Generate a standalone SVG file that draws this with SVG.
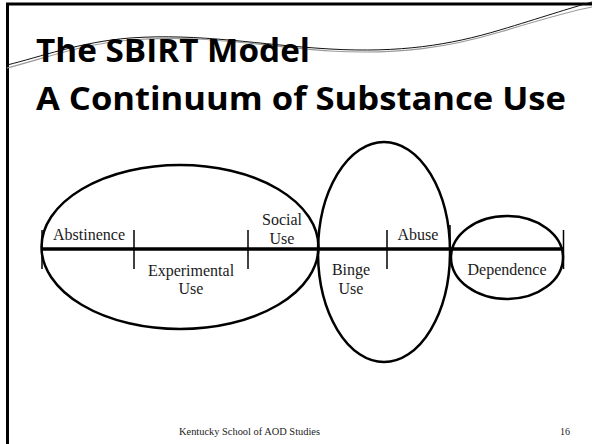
<svg xmlns="http://www.w3.org/2000/svg" width="592" height="444" viewBox="0 0 592 444">
  <style>
    .frame { stroke: #000; stroke-width: 3; fill: none; }
    .title { font-family: "Open Sans", "Liberation Sans", sans-serif; font-weight: 700; font-size: 33px; fill: #000; }
    .oval { fill: none; stroke: #000; stroke-width: 2.5; }
    .axis { stroke: #000; stroke-width: 3.5; fill: none; }
    .tick { stroke: #000; stroke-width: 1.5; fill: none; }
    .lbl { font-family: "Liberation Serif", "Times New Roman", serif; font-size: 16px; fill: #1a1a1a; text-anchor: middle; }
    .foot { font-family: "Liberation Serif", serif; font-size: 10px; fill: #222; }
  </style>

  <rect width="592" height="444" fill="#fff"/>

  <!-- slide frame: top and left rules, plus the swoosh lines -->
  <g id="frame">
    <path class="frame" d="M7.5,444 V4 H592"/>
    <path d="M7,68 C40,60 80,44 130,40 C200,34 260,46 330,51 C400,55 450,47 500,32 C540,20 570,11 592,7" fill="none" stroke="#9a9a9a" stroke-width="1.2"/>
    <path d="M7,65 C40,57 80,42 130,38 C200,33 260,45 330,49 C400,53 450,45 500,30 C540,18 570,8 592,2" fill="none" stroke="#111" stroke-width="1"/>
  </g>

  <g id="title">
    <text class="title" x="36" y="62" textLength="274" lengthAdjust="spacingAndGlyphs">The SBIRT Model</text>
    <text class="title" x="36" y="110" textLength="530" lengthAdjust="spacingAndGlyphs">A Continuum of Substance Use</text>
  </g>

  <!-- stage ovals -->
  <g id="oval-early">
    <ellipse class="oval" cx="180" cy="247" rx="138.5" ry="82"/>
  </g>
  <g id="oval-binge">
    <ellipse class="oval" cx="384" cy="252" rx="66" ry="110"/>
  </g>
  <g id="oval-dependence">
    <ellipse class="oval" cx="507" cy="257.5" rx="56" ry="41.5"/>
  </g>

  <!-- continuum axis with stage dividers -->
  <g id="connectors">
    <line class="axis" x1="41" y1="249" x2="564" y2="249"/>
    <line class="tick" x1="42" y1="230" x2="42" y2="269"/>
    <line class="tick" x1="134" y1="230" x2="134" y2="269"/>
    <line class="tick" x1="248" y1="230" x2="248" y2="269"/>
    <line class="tick" x1="387" y1="230" x2="387" y2="269"/>
    <line class="tick" x1="450" y1="225" x2="450" y2="249"/>
    <line class="tick" x1="563.5" y1="230" x2="563.5" y2="269"/>
  </g>

  <g id="stage-abstinence">
    <text class="lbl" x="89" y="240">Abstinence</text>
  </g>
  <g id="stage-experimental">
    <text class="lbl" x="191" y="276">Experimental</text>
    <text class="lbl" x="191" y="294">Use</text>
  </g>
  <g id="stage-social">
    <text class="lbl" x="282" y="225">Social</text>
    <text class="lbl" x="282" y="244">Use</text>
  </g>
  <g id="stage-binge">
    <text class="lbl" x="351" y="275">Binge</text>
    <text class="lbl" x="351" y="294">Use</text>
  </g>
  <g id="stage-abuse">
    <text class="lbl" x="418" y="240">Abuse</text>
  </g>
  <g id="stage-dependence">
    <text class="lbl" x="507" y="275">Dependence</text>
  </g>

  <g id="footer">
    <text class="foot" x="179" y="435" textLength="141" lengthAdjust="spacingAndGlyphs">Kentucky School of AOD Studies</text>
    <text class="foot" x="560" y="435" font-size="8">16</text>
  </g>
</svg>
